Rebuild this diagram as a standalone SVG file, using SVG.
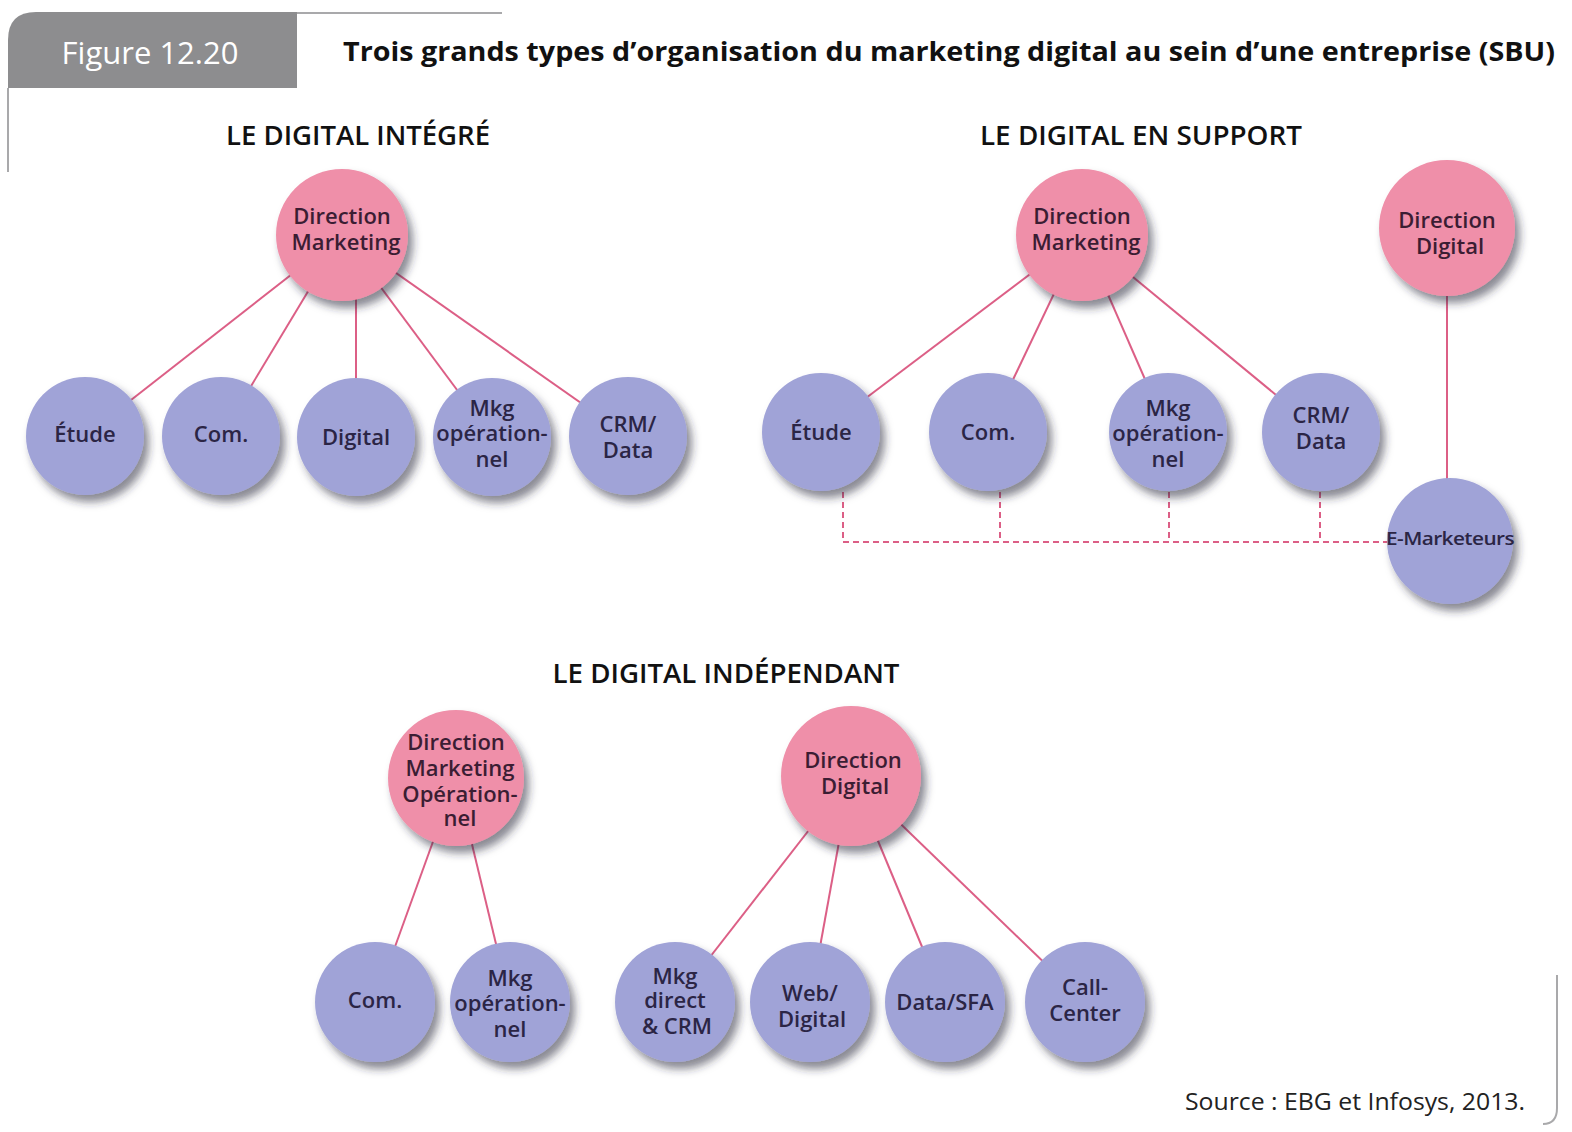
<svg xmlns="http://www.w3.org/2000/svg" width="1572" height="1132" viewBox="0 0 1572 1132">
<defs>
<filter id="sh" x="-30%" y="-30%" width="170%" height="170%">
<feDropShadow dx="5" dy="7" stdDeviation="4.5" flood-color="#2a2a3a" flood-opacity="0.55"/>
</filter>
<style>
.pk{fill:#ef8fa9;filter:url(#sh)}
.lv{fill:#a0a3d7;filter:url(#sh)}
.ln{stroke:#dc5f86;stroke-width:2;fill:none}
.dash{stroke:#dc5f86;stroke-width:2;fill:none;stroke-dasharray:6 4}
.t{font-family:"Open Sans","Liberation Sans",sans-serif;font-size:22px;font-weight:600;fill:#2b2545;text-anchor:middle}
.tp{fill:#3b1d33}
.h{font-family:"Open Sans","Liberation Sans",sans-serif;font-size:27px;font-weight:600;fill:#111;text-anchor:middle}
.frame{stroke:#a9a9ab;stroke-width:2;fill:none}
</style>
</defs>
<rect width="1572" height="1132" fill="#ffffff"/>
<g id="frame">
<path d="M8,88 V40 Q8,12 36,12 H297 V88 Z" fill="#8d8d8f"/>
<line class="frame" x1="297" y1="13" x2="502" y2="13"/>
<line class="frame" x1="8" y1="88" x2="8" y2="172"/>
<path class="frame" d="M1557,975 V1108 Q1557,1124 1543,1124"/>
<text x="150" y="64" font-family="'Open Sans','Liberation Sans',sans-serif" font-size="31" fill="#ffffff" text-anchor="middle">Figure 12.20</text>
<text x="343" y="61" font-family="'Open Sans','Liberation Sans',sans-serif" font-size="27" font-weight="bold" fill="#111" textLength="1212" lengthAdjust="spacingAndGlyphs">Trois grands types d’organisation du marketing digital au sein d’une entreprise (SBU)</text>
<text class="h" x="358" y="145" textLength="264" lengthAdjust="spacingAndGlyphs">LE DIGITAL INTÉGRÉ</text>
<text class="h" x="1141" y="145" textLength="322" lengthAdjust="spacingAndGlyphs">LE DIGITAL EN SUPPORT</text>
<text class="h" x="726" y="683" textLength="347" lengthAdjust="spacingAndGlyphs">LE DIGITAL INDÉPENDANT</text>
<text x="1525" y="1110" font-family="'Open Sans','Liberation Sans',sans-serif" font-size="23" fill="#222" text-anchor="end" textLength="340" lengthAdjust="spacingAndGlyphs">Source : EBG et Infosys, 2013.</text>
</g>
<g id="connectors">
<line class="ln" x1="342" y1="235" x2="85" y2="436"/>
<line class="ln" x1="342" y1="235" x2="221" y2="436"/>
<line class="ln" x1="356" y1="235" x2="356" y2="437"/>
<line class="ln" x1="342" y1="235" x2="492" y2="437"/>
<line class="ln" x1="342" y1="235" x2="628" y2="436"/>
<line class="ln" x1="1082" y1="235" x2="821" y2="432"/>
<line class="ln" x1="1082" y1="235" x2="988" y2="432"/>
<line class="ln" x1="1082" y1="235" x2="1168" y2="432"/>
<line class="ln" x1="1082" y1="235" x2="1321" y2="432"/>
<line class="ln" x1="1447" y1="228" x2="1447" y2="541"/>
<path class="dash" d="M843,492 V542 M1000,492 V542 M1169,492 V542 M1320,492 V542 M843,542 H1392"/>
<line class="ln" x1="456" y1="778" x2="375" y2="1002"/>
<line class="ln" x1="456" y1="778" x2="510" y2="1002"/>
<line class="ln" x1="851" y1="776" x2="675" y2="1002"/>
<line class="ln" x1="851" y1="776" x2="810" y2="1002"/>
<line class="ln" x1="851" y1="776" x2="945" y2="1002"/>
<line class="ln" x1="851" y1="776" x2="1085" y2="1002"/>
</g>
<g id="n1-dm"><circle class="pk" cx="342" cy="235" r="66"/><text class="t tp" x="342" y="224">Direction</text><text class="t tp" x="346" y="250">Marketing</text></g>
<g id="n1-etude"><circle class="lv" cx="85" cy="436" r="59"/><text class="t" x="85" y="442">Étude</text></g>
<g id="n1-com"><circle class="lv" cx="221" cy="436" r="59"/><text class="t" x="221" y="442">Com.</text></g>
<g id="n1-digital"><circle class="lv" cx="356" cy="437" r="59"/><text class="t" x="356" y="445">Digital</text></g>
<g id="n1-mkg"><circle class="lv" cx="492" cy="437" r="59"/><text class="t" x="492" y="416">Mkg</text><text class="t" x="492" y="441">opération-</text><text class="t" x="492" y="467">nel</text></g>
<g id="n1-crm"><circle class="lv" cx="628" cy="436" r="59"/><text class="t" x="628" y="432">CRM/</text><text class="t" x="628" y="458">Data</text></g>

<g id="n2-dm"><circle class="pk" cx="1082" cy="235" r="66"/><text class="t tp" x="1082" y="224">Direction</text><text class="t tp" x="1086" y="250">Marketing</text></g>
<g id="n2-dd"><circle class="pk" cx="1447" cy="228" r="68"/><text class="t tp" x="1447" y="228">Direction</text><text class="t tp" x="1450" y="254">Digital</text></g>
<g id="n2-etude"><circle class="lv" cx="821" cy="432" r="59"/><text class="t" x="821" y="440">Étude</text></g>
<g id="n2-com"><circle class="lv" cx="988" cy="432" r="59"/><text class="t" x="988" y="440">Com.</text></g>
<g id="n2-mkg"><circle class="lv" cx="1168" cy="432" r="59"/><text class="t" x="1168" y="416">Mkg</text><text class="t" x="1168" y="441">opération-</text><text class="t" x="1168" y="467">nel</text></g>
<g id="n2-crm"><circle class="lv" cx="1321" cy="432" r="59"/><text class="t" x="1321" y="423">CRM/</text><text class="t" x="1321" y="449">Data</text></g>
<g id="n2-emk"><circle class="lv" cx="1450" cy="541" r="63"/><text class="t" x="1450" y="545" font-weight="bold" textLength="128" lengthAdjust="spacingAndGlyphs" style="font-size:18px;letter-spacing:-0.5px">E-Marketeurs</text></g>

<g id="n3-dmo"><circle class="pk" cx="456" cy="778" r="68"/><text class="t tp" x="456" y="750">Direction</text><text class="t tp" x="460" y="776">Marketing</text><text class="t tp" x="460" y="802">Opération-</text><text class="t tp" x="460" y="826">nel</text></g>
<g id="n3-dd"><circle class="pk" cx="851" cy="776" r="70"/><text class="t tp" x="853" y="768">Direction</text><text class="t tp" x="855" y="794">Digital</text></g>
<g id="n3-com"><circle class="lv" cx="375" cy="1002" r="60"/><text class="t" x="375" y="1008">Com.</text></g>
<g id="n3-mkg"><circle class="lv" cx="510" cy="1002" r="60"/><text class="t" x="510" y="986">Mkg</text><text class="t" x="510" y="1011">opération-</text><text class="t" x="510" y="1037">nel</text></g>
<g id="n3-mkgd"><circle class="lv" cx="675" cy="1002" r="60"/><text class="t" x="675" y="984">Mkg</text><text class="t" x="675" y="1008">direct</text><text class="t" x="677" y="1034">&amp; CRM</text></g>
<g id="n3-web"><circle class="lv" cx="810" cy="1002" r="60"/><text class="t" x="810" y="1001">Web/</text><text class="t" x="812" y="1027">Digital</text></g>
<g id="n3-data"><circle class="lv" cx="945" cy="1002" r="60"/><text class="t" x="945" y="1010">Data/SFA</text></g>
<g id="n3-call"><circle class="lv" cx="1085" cy="1002" r="60"/><text class="t" x="1085" y="995">Call-</text><text class="t" x="1085" y="1021">Center</text></g>
</svg>
